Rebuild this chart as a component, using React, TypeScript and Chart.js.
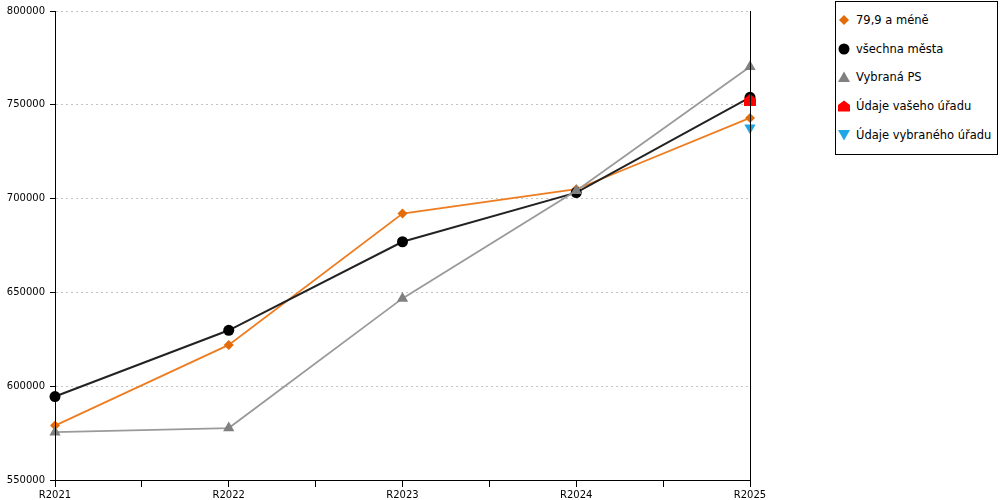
import { Chart, registerables } from "chart.js";
import React, { useEffect, useRef } from "react";

Chart.register(...registerables);

const years = ["R2021", "R2022", "R2023", "R2024", "R2025"];
const small = [579000, 622000, 692000, 705000, 743000]; // 79,9 a méně
const allCities = [594500, 629800, 677000, 703200, 754000]; // všechna města
const selectedPS = [575500, 577700, 646800, 704200, 770300]; // Vybraná PS
const yourOffice = [null, null, null, null, 752700]; // Údaje vašeho úřadu
const selectedOffice = [null, null, null, null, 737800]; // Údaje vybraného úřadu

const yTicks = [550000, 600000, 650000, 700000, 750000, 800000];

const legendItems = [
  { label: "79,9 a méně", shape: "diamond", color: "#e36c0a" },
  { label: "všechna města", shape: "circle", color: "#000000" },
  { label: "Vybraná PS", shape: "triangle", color: "#808080" },
  { label: "Údaje vašeho úřadu", shape: "house", color: "#ff0000" },
  { label: "Údaje vybraného úřadu", shape: "down", color: "#1ea6e6" },
];

const FONT = "'DejaVu Sans', Verdana, sans-serif";

const toPoints = (vals: (number | null)[]) =>
  vals.map((v, i) => ({ x: i, y: v }));

// little house shaped marker for the red series
function makeHouse(color: string) {
  const c = document.createElement("canvas");
  c.width = 12;
  c.height = 12;
  const ctx = c.getContext("2d")!;
  ctx.fillStyle = color;
  ctx.beginPath();
  ctx.moveTo(6, 0);
  ctx.lineTo(12, 5);
  ctx.lineTo(12, 12);
  ctx.lineTo(0, 12);
  ctx.lineTo(0, 5);
  ctx.closePath();
  ctx.fill();
  return c;
}

function Marker({ shape, color }: { shape: string; color: string }) {
  let el: React.ReactNode = null;
  if (shape === "diamond") el = <polygon points="6,1 11,6 6,11 1,6" fill={color} />;
  if (shape === "circle") el = <circle cx="6" cy="6" r="5.5" fill={color} />;
  if (shape === "triangle") el = <polygon points="6,0.5 12,11 0,11" fill={color} />;
  if (shape === "house") el = <polygon points="6,0.5 12,5 12,11.5 0,11.5 0,5" fill={color} />;
  if (shape === "down") el = <polygon points="0,1 12,1 6,11.5" fill={color} />;
  return (
    <svg width="12" height="12" style={{ display: "block" }}>
      {el}
    </svg>
  );
}

const App: React.FC = () => {
  const canvasRef = useRef<HTMLCanvasElement | null>(null);
  const chartRef = useRef<Chart | null>(null);

  useEffect(() => {
    document.body.style.margin = "0";
    if (chartRef.current) chartRef.current.destroy();
    if (!canvasRef.current) return;

    const house = makeHouse("#ff0000");

    chartRef.current = new Chart(canvasRef.current, {
      type: "line",
      data: {
        datasets: [
          {
            label: "79,9 a méně",
            data: toPoints(small),
            borderColor: "#ee7d22",
            borderWidth: 1.8,
            pointStyle: "rectRot",
            pointRadius: 5,
            pointBackgroundColor: "#e36c0a",
            pointBorderWidth: 0,
            clip: false,
            order: 5,
          },
          {
            label: "všechna města",
            data: toPoints(allCities),
            borderColor: "#222222",
            borderWidth: 2,
            pointStyle: "circle",
            pointRadius: 5.5,
            pointBackgroundColor: "#000000",
            pointBorderWidth: 0,
            clip: false,
            order: 4,
          },
          {
            label: "Vybraná PS",
            data: toPoints(selectedPS),
            borderColor: "#9a9a9a",
            borderWidth: 1.8,
            pointStyle: "triangle",
            pointRadius: 6.5,
            pointBackgroundColor: "#808080",
            pointBorderWidth: 0,
            clip: false,
            order: 3,
          },
          {
            label: "Údaje vašeho úřadu",
            data: toPoints(yourOffice),
            showLine: false,
            pointStyle: house,
            pointRadius: 6,
            clip: false,
            order: 2,
          },
          {
            label: "Údaje vybraného úřadu",
            data: toPoints(selectedOffice),
            showLine: false,
            pointStyle: "triangle",
            rotation: 180,
            pointRadius: 6.5,
            pointBackgroundColor: "#1ea6e6",
            pointBorderWidth: 0,
            clip: false,
            order: 1,
          },
        ],
      },
      options: {
        animation: false,
        responsive: true,
        maintainAspectRatio: false,
        layout: { padding: { top: 10, left: 0, right: 0, bottom: 0 } },
        plugins: {
          legend: { display: false },
          tooltip: { enabled: false },
        },
        scales: {
          x: {
            type: "linear",
            min: 0,
            max: years.length - 1,
            afterFit: (s: any) => {
              s.height = 25;
            },
            ticks: {
              stepSize: 0.5,
              autoSkip: false,
              maxRotation: 0,
              padding: 2,
              color: "#000",
              font: { family: FONT, size: 10 },
              callback: (v: any) =>
                Number.isInteger(Number(v)) ? years[Number(v)] : "",
            },
            grid: {
              drawOnChartArea: false,
              tickLength: 7,
              tickColor: "#000",
            },
            border: { color: "#000", width: 1, z: 1 },
          },
          y: {
            min: yTicks[0],
            max: yTicks[yTicks.length - 1],
            afterFit: (s: any) => {
              s.width = 55;
            },
            afterBuildTicks: (s: any) => {
              s.ticks = yTicks.map((v) => ({ value: v }));
            },
            ticks: {
              padding: 5,
              color: "#000",
              font: { family: FONT, size: 10 },
              callback: (v: any) => String(v),
            },
            grid: {
              color: "#c4c4c4",
              tickBorderDash: [],
              tickColor: "#000",
              tickLength: 5,
            },
            border: { color: "#000", width: 1, dash: [2, 3], z: 1 },
          },
          y2: {
            position: "right",
            min: yTicks[0],
            max: yTicks[yTicks.length - 1],
            afterFit: (s: any) => {
              s.width = 250;
            },
            ticks: { display: false },
            grid: { display: false },
            border: { color: "#000", width: 1, z: 1 },
          },
        },
      } as any,
    });

    return () => {
      if (chartRef.current) {
        chartRef.current.destroy();
        chartRef.current = null;
      }
    };
  }, []);

  return (
    <div
      style={{
        position: "relative",
        width: 1000,
        height: 500,
        overflow: "hidden",
        background: "#fff",
        fontFamily: FONT,
      }}
    >
      <div style={{ position: "absolute", left: 0, top: 0, width: 1000, height: 505 }}>
        <canvas ref={canvasRef}></canvas>
      </div>
      <div
        style={{
          position: "absolute",
          left: 835,
          top: 1,
          width: 161,
          height: 152,
          border: "1px solid #000",
          background: "#fff",
        }}
      >
        {legendItems.map((it, i) => (
          <div
            key={it.label}
            style={{
              position: "absolute",
              left: 2,
              top: 10 + i * 28.7,
              height: 16,
              display: "flex",
              alignItems: "center",
              whiteSpace: "nowrap",
              fontSize: 11.5,
              color: "#000",
            }}
          >
            <Marker shape={it.shape} color={it.color} />
            <span style={{ marginLeft: 6 }}>{it.label}</span>
          </div>
        ))}
      </div>
    </div>
  );
};

export default App;
